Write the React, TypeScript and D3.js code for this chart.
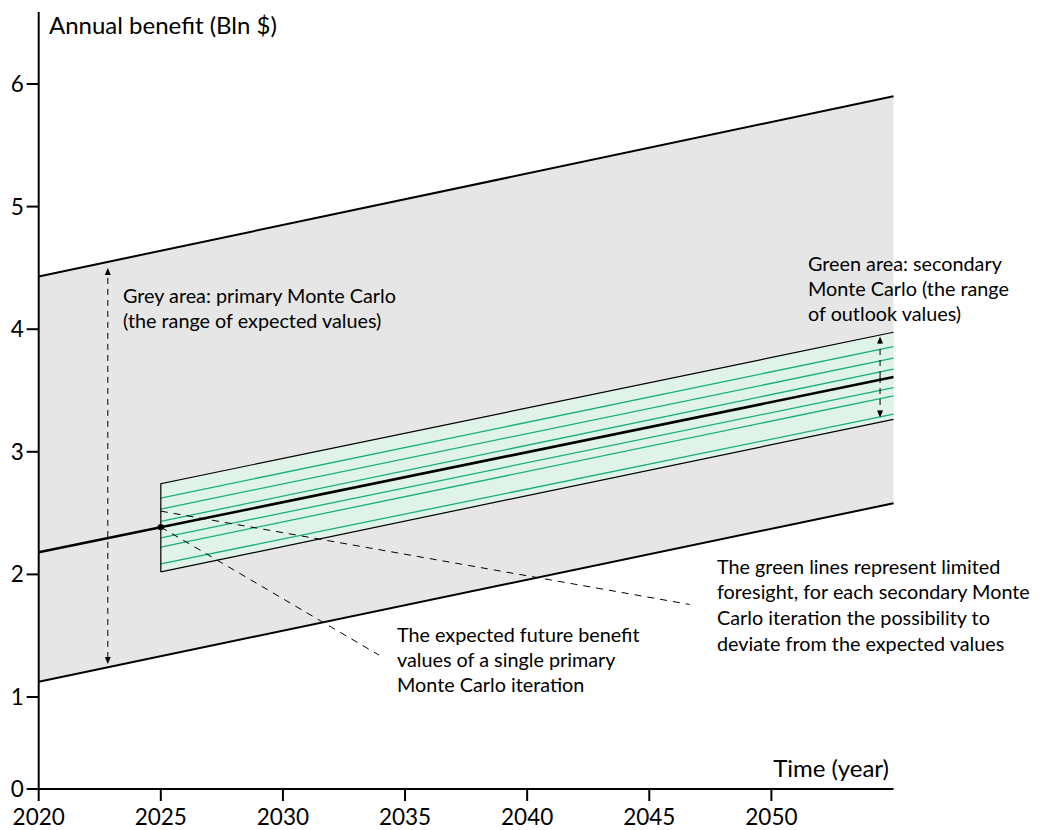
import React from "react";
import * as d3 from "d3";

const yearDomain = [2020, 2055];
const xTicks = [2020, 2025, 2030, 2035, 2040, 2045, 2050];
const yTicks = [0, 1, 2, 3, 4, 5, 6];

const boundYears = [2020, 2055];
const upperBound = [4.43, 5.9];
const lowerBound = [1.125, 2.58];

const expectedYears = [2020, 2055];
const expectedValues = [2.18, 3.61];

const bandYears = [2025, 2055];
const bandTop = [2.74, 3.975];
const bandBottom = [2.02, 3.265];
const greenStart = [2.623, 2.533, 2.432, 2.297, 2.223, 2.085];
const greenEnd = [3.858, 3.764, 3.674, 3.524, 3.456, 3.307];

// annotation anchors in data coordinates
const greyArrowYear = 2022.83;
const greyArrowRange = [1.27, 4.5];
const greenArrowYear = 2054.45;
const greenArrowRange = [3.28, 3.61, 3.94];
const dotPoint = [2025, 2.386];
const leader1 = [[2025, 2.386], [2033.93, 1.342]];
const leader2 = [[2025, 2.516], [2046.65, 1.755]];

const FONT = "Lato, 'Open Sans', sans-serif";

export default function App() {
  const W = 1041, H = 830;
  const x = d3.scaleLinear().domain(yearDomain).range([38.7, 893.5]);
  const y = d3.scaleLinear().domain([0, 1, 6]).range([789, 697, 84]);

  const line = d3.line<[number, number]>().x(d => x(d[0])).y(d => y(d[1]));

  const greyArea = d3.area<number>()
    .x((_, i) => x(boundYears[i]))
    .y0((_, i) => y(lowerBound[i]))
    .y1((_, i) => y(upperBound[i]));
  const bandArea = d3.area<number>()
    .x((_, i) => x(bandYears[i]))
    .y0((_, i) => y(bandBottom[i]))
    .y1((_, i) => y(bandTop[i]));

  const bandOutline = line([
    [bandYears[0], bandBottom[0]],
    [bandYears[0], bandTop[0]],
    [bandYears[1], bandTop[1]],
  ]);
  const bandBottomLine = line([
    [bandYears[0], bandBottom[0]],
    [bandYears[1], bandBottom[1]],
  ]);

  const arrowHead = (px: number, py: number, dir: number, key: string) => (
    <path key={key}
      d={`M${px},${py} L${px - 3},${py - 7 * dir} L${px + 3},${py - 7 * dir} Z`}
      fill="#000" />
  );

  const gx = x(greyArrowYear);
  const gy0 = y(greyArrowRange[0]);
  const gy1 = y(greyArrowRange[1]);
  const rx = x(greenArrowYear);
  const ry0 = y(greenArrowRange[0]);
  const ryM = y(greenArrowRange[1]);
  const ry1 = y(greenArrowRange[2]);

  const textStyle = { fontFamily: FONT, fontSize: 19.8, fill: "#000" } as const;
  const axisText = { ...textStyle, fontSize: 22.5 };

  return (
    <svg width={W} height={H} style={{ position: "absolute", left: 0, top: 0, background: "#fff" }}>
      <path d={greyArea(boundYears) || ""} fill="#e6e6e6" />
      <path d={bandArea(bandYears) || ""} fill="#e0f3e9" />
      {greenStart.map((v, i) => (
        <path key={"g" + i} d={line([[bandYears[0], v], [bandYears[1], greenEnd[i]]]) || ""}
          stroke="#16b07a" strokeWidth={1.3} fill="none" />
      ))}
      <path d={bandOutline || ""} stroke="#000" strokeWidth={1.2} fill="none" />
      <path d={bandBottomLine || ""} stroke="#000" strokeWidth={1.2} fill="none" />
      <path d={line(boundYears.map((yr, i) => [yr, upperBound[i]]) as [number, number][]) || ""}
        stroke="#000" strokeWidth={2} fill="none" />
      <path d={line(boundYears.map((yr, i) => [yr, lowerBound[i]]) as [number, number][]) || ""}
        stroke="#000" strokeWidth={2} fill="none" />
      <path d={line(expectedYears.map((yr, i) => [yr, expectedValues[i]]) as [number, number][]) || ""}
        stroke="#000" strokeWidth={2.6} fill="none" />
      <circle cx={x(dotPoint[0])} cy={y(dotPoint[1])} r={3.2} fill="#000" />

      {/* leader lines */}
      {[leader1, leader2].map((l, i) => (
        <path key={"l" + i} d={line(l as [number, number][]) || ""} stroke="#000" strokeWidth={1}
          strokeDasharray="7,6" fill="none" />
      ))}

      {/* grey range arrow */}
      <line x1={gx} x2={gx} y1={gy0 - 6} y2={gy1 + 6} stroke="#000" strokeWidth={1} strokeDasharray="6,5" />
      {arrowHead(gx, gy1, -1, "ga1")}
      {arrowHead(gx, gy0, 1, "ga0")}

      {/* green range arrow */}
      <line x1={rx} x2={rx} y1={ryM} y2={ry1 + 6} stroke="#000" strokeWidth={1} strokeDasharray="6,5" />
      <line x1={rx} x2={rx} y1={ryM} y2={ry0 - 6} stroke="#000" strokeWidth={1} strokeDasharray="6,5" />
      {arrowHead(rx, ry1, -1, "ra1")}
      {arrowHead(rx, ry0, 1, "ra0")}

      {/* axes */}
      <line x1={x(2020)} x2={x(2055)} y1={y(0)} y2={y(0)} stroke="#000" strokeWidth={2} />
      <line x1={x(2020)} x2={x(2020)} y1={y(0)} y2={12} stroke="#000" strokeWidth={2} />
      {xTicks.map(t => (
        <g key={"xt" + t}>
          <line x1={x(t)} x2={x(t)} y1={y(0)} y2={y(0) + 12} stroke="#000" strokeWidth={2} />
          <text x={x(t)} y={y(0) + 36} textAnchor="middle" style={axisText}>{t}</text>
        </g>
      ))}
      {yTicks.map(t => (
        <g key={"yt" + t}>
          <line x1={x(2020) - 12} x2={x(2020)} y1={y(t)} y2={y(t)} stroke="#000" strokeWidth={2} />
          <text x={x(2020) - 15} y={y(t) + 8} textAnchor="end" style={axisText}>{t}</text>
        </g>
      ))}
      <text x={49} y={34} style={{ ...textStyle, fontSize: 24 }}>Annual benefit (Bln $)</text>
      <text x={889} y={777} textAnchor="end" style={{ ...textStyle, fontSize: 24 }}>Time (year)</text>

      {/* annotations */}
      <text style={textStyle}>
        <tspan x={123} y={303}>Grey area: primary Monte Carlo</tspan>
        <tspan x={123} y={328}>(the range of expected values)</tspan>
      </text>
      <text style={textStyle}>
        <tspan x={808} y={271}>Green area: secondary</tspan>
        <tspan x={808} y={296}>Monte Carlo (the range</tspan>
        <tspan x={808} y={321}>of outlook values)</tspan>
      </text>
      <text style={textStyle}>
        <tspan x={717} y={574}>The green lines represent limited</tspan>
        <tspan x={717} y={599}>foresight, for each secondary Monte</tspan>
        <tspan x={717} y={625}>Carlo iteration the possibility to</tspan>
        <tspan x={717} y={651}>deviate from the expected values</tspan>
      </text>
      <text style={textStyle}>
        <tspan x={397} y={642}>The expected future benefit</tspan>
        <tspan x={397} y={667}>values of a single primary</tspan>
        <tspan x={397} y={692}>Monte Carlo iteration</tspan>
      </text>
    </svg>
  );
}
